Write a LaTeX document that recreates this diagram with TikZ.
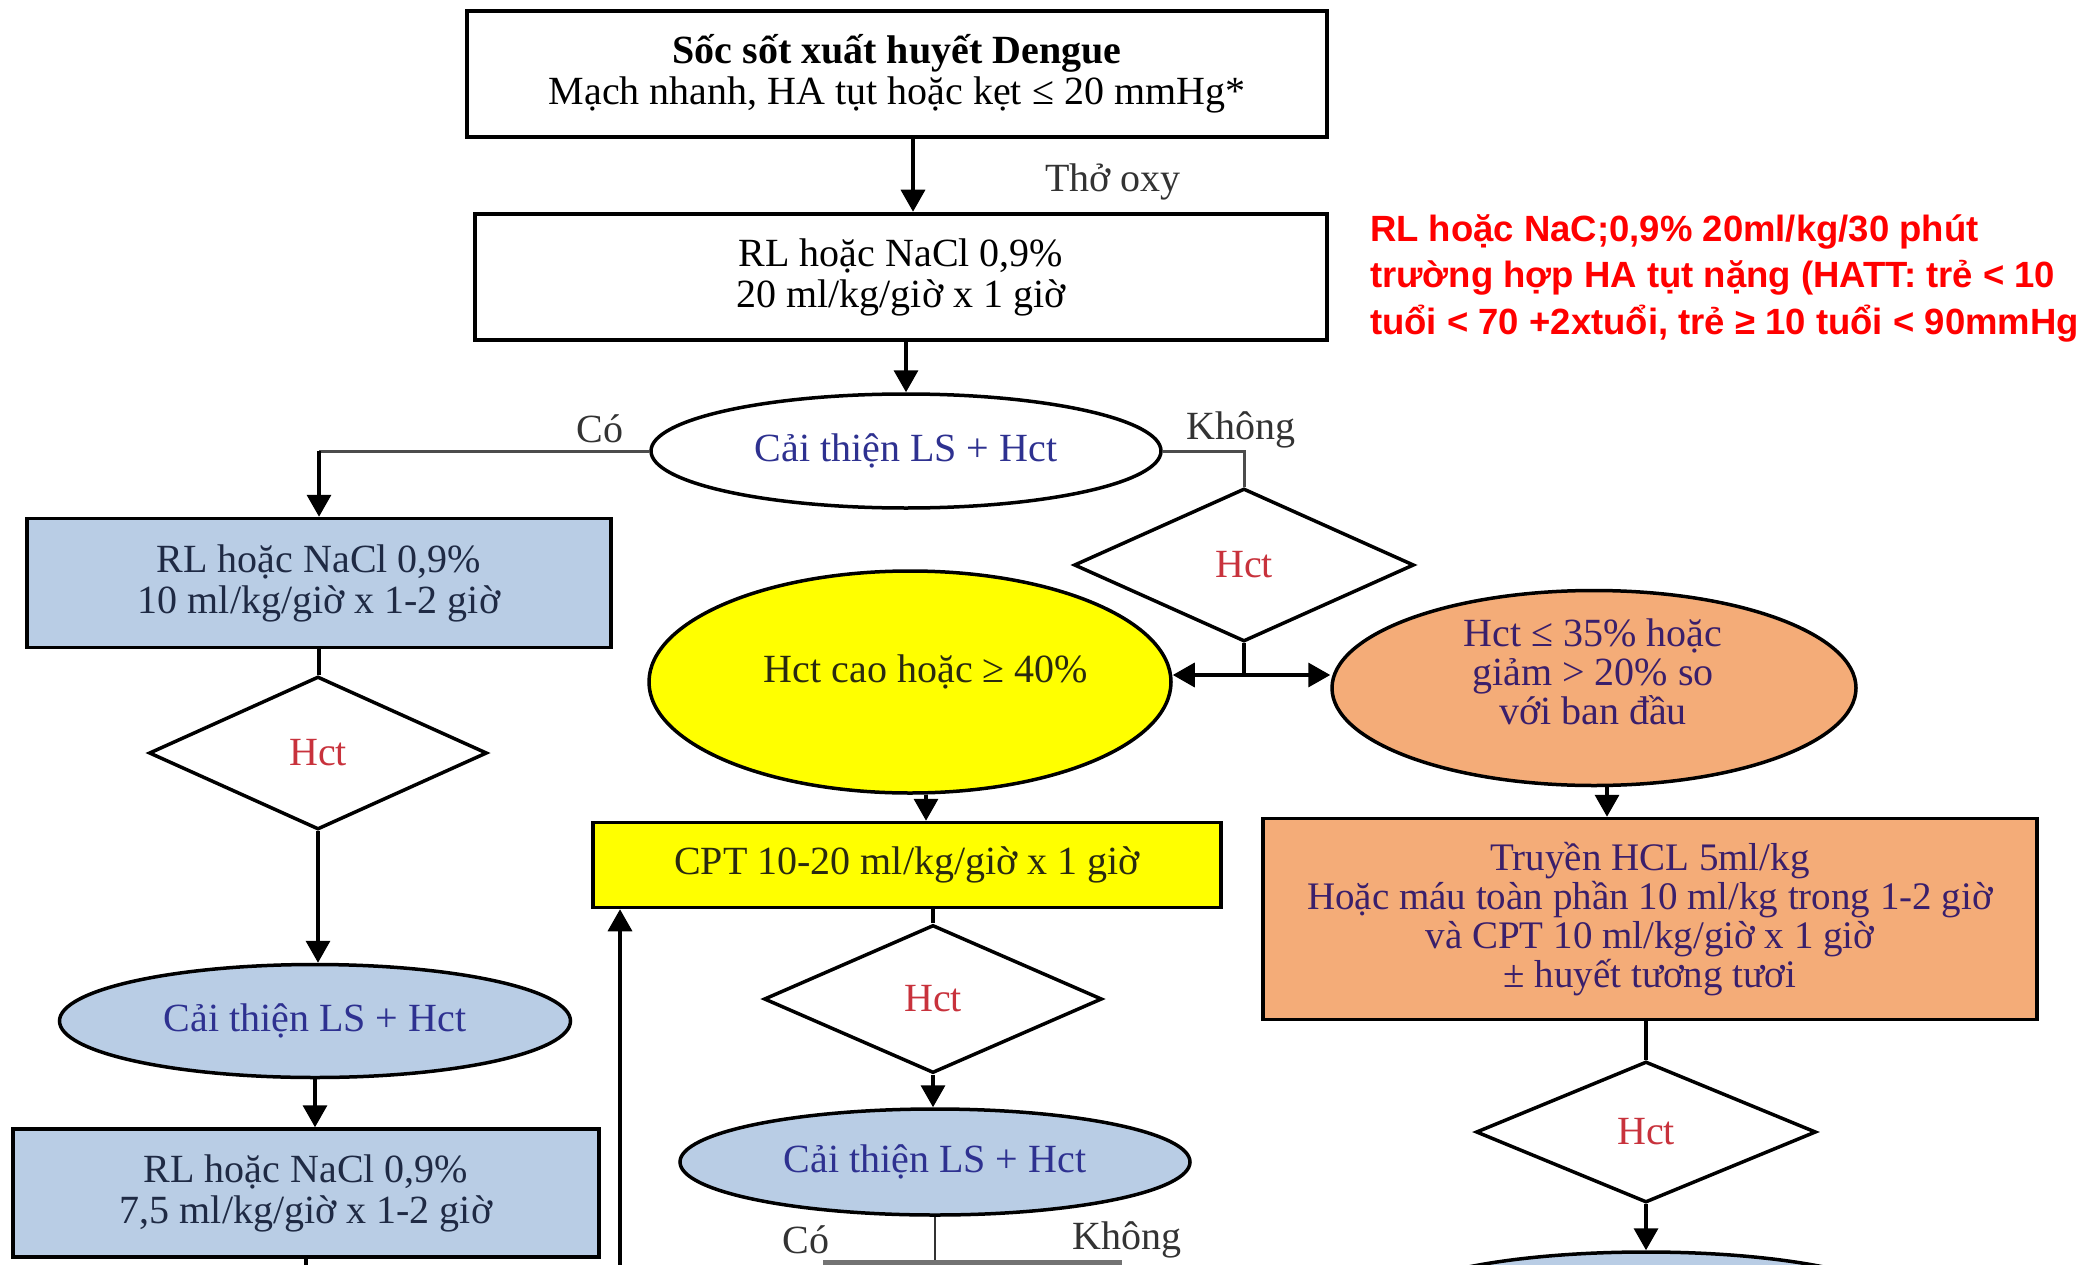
\documentclass[tikz,border=0pt]{standalone}
\usepackage{fontspec}
\setmainfont{Liberation Serif}
\newfontfamily\notefont{Liberation Sans}
\usetikzlibrary{shapes.geometric,arrows.meta,calc}

\definecolor{boxblue}{HTML}{B9CDE5}
\definecolor{hiyellow}{HTML}{FFFF00}
\definecolor{peach}{HTML}{F4AC78}
\definecolor{navytext}{HTML}{2E3190}
\definecolor{slatetext}{HTML}{1F2A44}
\definecolor{hctred}{HTML}{C8323C}
\definecolor{plumtext}{HTML}{3A1F6B}
\definecolor{olivetext}{HTML}{2A2A10}
\definecolor{labelgray}{HTML}{333333}
\definecolor{notered}{HTML}{FF0000}

\begin{document}
\begin{tikzpicture}[x=1pt,y=-1pt,
  every node/.style={font=\fontsize{40}{41}\selectfont},
  box/.style={draw=black, line width=3.5pt, rectangle, inner sep=0pt, align=center},
  oval/.style={draw=black, line width=3.5pt, ellipse, inner sep=0pt, align=center},
  dia/.style={draw=black, line width=3.5pt, diamond, aspect=2.2, inner sep=0pt, text=hctred},
  conn/.style={line width=3.5pt, draw=black},
  branch/.style={line width=3pt, draw=black!70},
  tip/.tip={Triangle[length=22pt,width=24pt]},
  arr/.style={conn, -tip},
  lbl/.style={text=labelgray, inner sep=0pt},
]
\clip (0,0) rectangle (2082,1265);
\fill[white] (0,0) rectangle (2082,1265);

% ---- top chain ----
\node[box, line width=4.5pt, minimum width=860, minimum height=126] (top) at (897,74)
  {\textbf{Sốc sốt xuất huyết Dengue}\\Mạch nhanh, HA tụt hoặc kẹt ≤ 20 mmHg*};
\node[box, line width=4.5pt, minimum width=852, minimum height=126] (box2) at (901,277)
  {RL hoặc NaCl 0,9\%\\20 ml/kg/giờ x 1 giờ};
\node[lbl] (oxy) at (1113,182) {Thở oxy};
\node[oval, fill=white, text=navytext, minimum width=510, minimum height=114] (e1) at (906,451)
  {Cải thiện LS + Hct};
\node[lbl] (co1) at (600,429) {Có};
\node[lbl] (kh1) at (1241,430) {Không};

% ---- left column ----
\node[box, fill=boxblue, text=slatetext, minimum width=584, minimum height=129] (lb1) at (319,583)
  {RL hoặc NaCl 0,9\%\\10 ml/kg/giờ x 1-2 giờ};
\node[dia, fill=white, minimum width=338, minimum height=153] (ld1) at (318,753) {Hct};
\node[oval, fill=boxblue, text=navytext, minimum width=511, minimum height=113] (le) at (315,1021)
  {Cải thiện LS + Hct};
\node[box, fill=boxblue, text=slatetext, minimum width=586, minimum height=128] (lb2) at (306,1193)
  {RL hoặc NaCl 0,9\%\\7,5 ml/kg/giờ x 1-2 giờ};

% ---- middle column ----
\node[dia, fill=white, minimum width=340, minimum height=153] (d1) at (1244,565) {Hct};
\node[oval, fill=hiyellow, minimum width=522, minimum height=222] (ye) at (910,682) {};
\node[text=olivetext, inner sep=0pt] (yet) at (926,672) {Hct cao hoặc ≥ 40\%};
\node[box, fill=hiyellow, text=olivetext, minimum width=628, minimum height=85] (cpt) at (907,865)
  {CPT 10-20 ml/kg/giờ x 1 giờ};
\node[dia, fill=white, minimum width=338, minimum height=148] (d2) at (933,999) {Hct};
\node[oval, fill=boxblue, text=navytext, minimum width=510, minimum height=106] (e3) at (935,1162)
  {Cải thiện LS + Hct};
\node[lbl] (co2) at (806,1240) {Có};
\node[lbl] (kh2) at (1127,1240) {Không};

% ---- right column ----
\node[oval, fill=peach, minimum width=524, minimum height=195] (oe) at (1594,688) {};
\node[text=plumtext, inner sep=0pt, align=center, font=\fontsize{40}{39}\selectfont] (oet) at (1593,672)
  {Hct ≤ 35\% hoặc\\giảm > 20\% so\\với ban đầu};
\node[box, fill=peach, text=plumtext, minimum width=774, minimum height=201,
      font=\fontsize{39}{39}\selectfont] (ob) at (1650,919)
  {Truyền HCL 5ml/kg\\Hoặc máu toàn phần 10 ml/kg trong 1-2 giờ\\và CPT 10 ml/kg/giờ x 1 giờ\\± huyết tương tươi};
\node[dia, fill=white, minimum width=340, minimum height=141] (rd) at (1646,1132) {Hct};
\node[oval, fill=boxblue, minimum width=510, minimum height=106] (re) at (1646,1305) {};

% ---- side note ----
\node[anchor=north west, align=left, inner sep=0pt, text=notered,
      font=\notefont\bfseries\fontsize{36.5}{46.5}\selectfont] (note) at (1370,214)
  {RL hoặc NaC;0,9\% 20ml/kg/30 phút\\trường hợp HA tụt nặng (HATT: trẻ < 10\\tuổi < 70 +2xtuổi, trẻ ≥ 10 tuổi < 90mmHg};

% ---- connectors ----
\draw[arr] ([xshift=16pt]top.south) -- ([xshift=16pt]top.south |- box2.north);
\draw[arr] (e1.north |- box2.south) -- (e1.north);

\coordinate (cobend) at (lb1.north |- e1.west);
\draw[branch] (e1.west) -- (cobend);
\draw[arr] (cobend) -- (lb1.north);
\draw[branch] (e1.east) -- (e1.east -| d1.north) -- (d1.north);

\coordinate (j1) at (1244,675);
\draw[conn] (d1.south) -- (j1);
\draw[conn, tip-tip] (ye.east |- j1) -- (oe.west |- j1);

\draw[arr] ([xshift=16pt]ye.south) -- ([xshift=16pt]ye.south |- cpt.north);
\draw[conn] (d2.north |- cpt.south) -- (d2.north);
\draw[arr] (d2.south) -- (d2.south |- e3.north);

\coordinate (j2) at (935,1262);
\coordinate (yesend) at (823,1262);
\coordinate (noend) at (1122,1262);
\draw[line width=2.5pt, black!80] (e3.south) -- (j2);
\draw[line width=5pt, black!55] (yesend) -- (noend);

\coordinate (fb) at (620,1265);
\draw[arr] (fb) -- (fb |- cpt.south);

\draw[conn] (lb1.south) -- (lb1.south |- ld1.north);
\draw[arr] (ld1.south) -- (ld1.south |- le.north);
\draw[arr] (le.south) -- (le.south |- lb2.north);
\coordinate (lbout) at (306,1265);
\draw[conn] (lb2.south) -- (lbout);

\draw[arr] ([xshift=13pt]oe.south) -- ([xshift=13pt]oe.south |- ob.north);
\draw[conn] (rd.north |- ob.south) -- (rd.north);
\draw[arr] (rd.south) -- (re.north);
\end{tikzpicture}
\end{document}
